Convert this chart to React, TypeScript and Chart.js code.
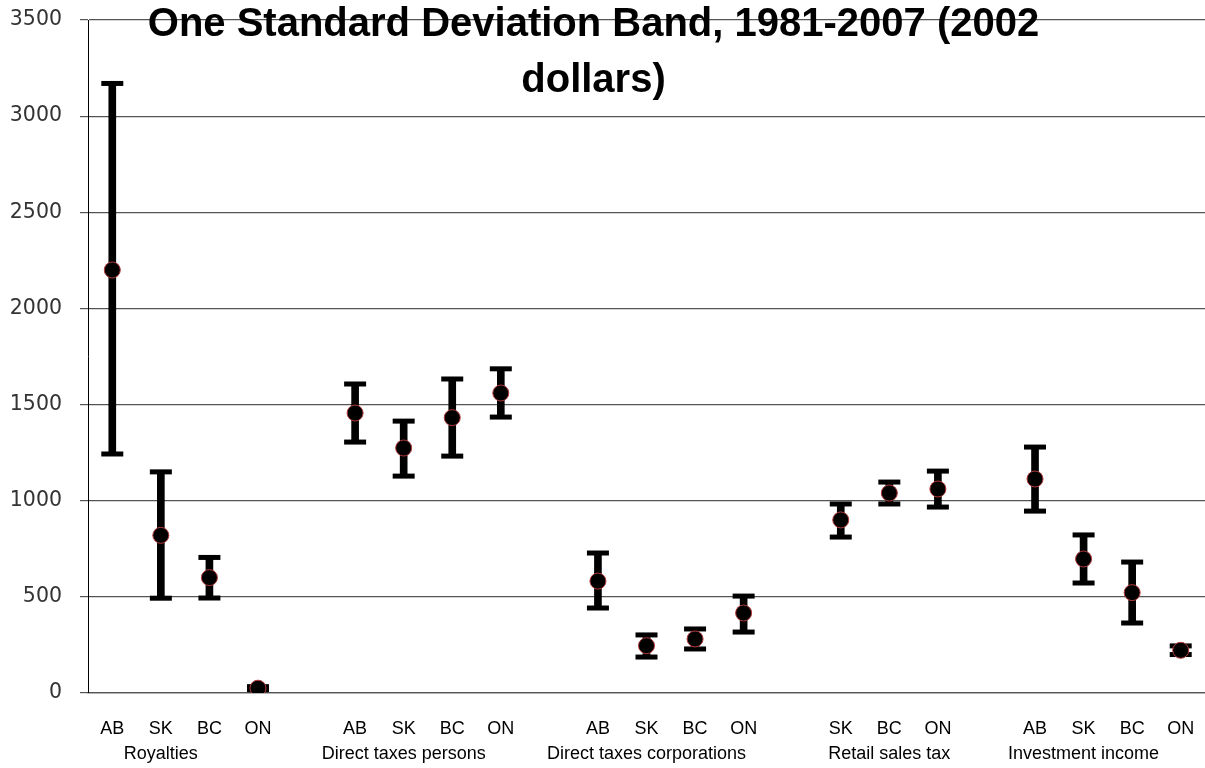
import React, { useEffect, useRef } from 'react';
import { Chart, registerables } from 'chart.js';

Chart.register(...registerables);

// ---- Data ----
const titleLines = ['One Standard Deviation Band, 1981-2007 (2002', 'dollars)'];

const groups = [
  'Royalties',
  'Direct taxes persons',
  'Direct taxes corporations',
  'Retail sales tax',
  'Investment income',
];

const groupProvinces = [
  ['AB', 'SK', 'BC', 'ON'],
  ['AB', 'SK', 'BC', 'ON'],
  ['AB', 'SK', 'BC', 'ON'],
  ['SK', 'BC', 'ON'],
  ['AB', 'SK', 'BC', 'ON'],
];

const meanValues = [
  [2200, 820, 600, 25],
  [1456, 1274, 1432, 1560],
  [582, 246, 281, 416],
  [900, 1040, 1061],
  [1113, 697, 522, 222],
];

const upperValues = [
  [3170, 1150, 705, 33],
  [1607, 1414, 1633, 1686],
  [728, 302, 333, 504],
  [983, 1097, 1154],
  [1279, 822, 681, 245],
];

const lowerValues = [
  [1243, 493, 494, 17],
  [1305, 1128, 1232, 1435],
  [442, 187, 229, 317],
  [811, 983, 967],
  [946, 572, 364, 200],
];

const yMin = 0;
const yMax = 3500;
const yStep = 500;

// ---- Build flat category table (blank category between groups) ----
const labels: string[][] = [];
const means: (number | null)[] = [];
const highs: (number | null)[] = [];
const lows: (number | null)[] = [];
const bands: ([number, number] | null)[] = [];

groups.forEach((g, gi) => {
  if (gi > 0) {
    labels.push(['', '']);
    means.push(null);
    highs.push(null);
    lows.push(null);
    bands.push(null);
  }
  groupProvinces[gi].forEach((p, pi) => {
    labels.push([p, pi === 1 ? g : '']);
    means.push(meanValues[gi][pi]);
    highs.push(upperValues[gi][pi]);
    lows.push(lowerValues[gi][pi]);
    bands.push([lowerValues[gi][pi], upperValues[gi][pi]]);
  });
});

const overlayTitle = {
  id: 'overlayTitle',
  afterDraw(chart: any) {
    const ctx = chart.ctx;
    ctx.save();
    ctx.font = 'bold 40px "Liberation Sans", Arial, sans-serif';
    ctx.fillStyle = '#000';
    ctx.textAlign = 'center';
    ctx.textBaseline = 'alphabetic';
    const cx = chart.width / 2 - 9;
    titleLines.forEach((t, i) => ctx.fillText(t, cx, 36 + i * 56));
    ctx.restore();
  },
};

const clearScalePadding = (scale: any) => {
  scale.paddingTop = 0;
  scale.paddingBottom = 0;
  scale.paddingLeft = 0;
  scale.paddingRight = 0;
};

export default function App() {
  const ref = useRef<HTMLCanvasElement | null>(null);

  useEffect(() => {
    if (!ref.current) return;
    const chart = new Chart(ref.current, {
      type: 'bar',
      data: {
        labels,
        datasets: [
          {
            type: 'line',
            label: 'Mean',
            data: means,
            showLine: false,
            pointStyle: 'circle',
            pointRadius: 8,
            pointHoverRadius: 8,
            pointBackgroundColor: '#000',
            pointBorderColor: '#b23a3a',
            pointBorderWidth: 1,
            order: 0,
          } as any,
          {
            type: 'line',
            label: 'Upper',
            data: highs,
            showLine: false,
            pointStyle: 'line',
            pointRadius: 11,
            pointHoverRadius: 11,
            pointBorderColor: '#000',
            pointBorderWidth: 5,
            order: 1,
          } as any,
          {
            type: 'line',
            label: 'Lower',
            data: lows,
            showLine: false,
            pointStyle: 'line',
            pointRadius: 11,
            pointHoverRadius: 11,
            pointBorderColor: '#000',
            pointBorderWidth: 5,
            order: 1,
          } as any,
          {
            type: 'bar',
            label: 'Band',
            data: bands as any,
            backgroundColor: '#000',
            barThickness: 7,
            grouped: false,
            order: 2,
          } as any,
        ],
      },
      options: {
        responsive: false,
        animation: false,
        layout: { autoPadding: false, padding: { left: 0, right: -3, top: 20, bottom: 0 } },
        plugins: {
          legend: { display: false },
          tooltip: { enabled: false },
          title: { display: false },
        },
        scales: {
          x: {
            grid: { display: false, drawTicks: false },
            border: { display: true, color: '#555', width: 1.2 },
            ticks: {
              autoSkip: false,
              maxRotation: 0,
              minRotation: 0,
              padding: 23,
              color: '#000',
              font: { family: '"Liberation Sans", Arial, sans-serif', size: 18, lineHeight: 1.4 },
            },
            afterFit: (scale: any) => {
              scale.height = 75;
              clearScalePadding(scale);
            },
          },
          y: {
            min: yMin,
            max: yMax,
            ticks: {
              stepSize: yStep,
              padding: 18,
              color: '#333',
              font: { family: '"DejaVu Sans", sans-serif', size: 20.5 },
              callback: (v: any) => String(v),
            },
            grid: { color: '#555', lineWidth: 1.2, tickLength: 8, drawTicks: true },
            border: { color: '#000', width: 1 },
            afterFit: (scale: any) => {
              scale.width = 88;
              clearScalePadding(scale);
            },
          },
        },
      },
      plugins: [overlayTitle],
    });
    return () => chart.destroy();
  }, []);

  return (
    <div style={{ position: 'fixed', left: 0, top: 0, width: 1205, height: 768, background: '#fff' }}>
      <canvas ref={ref} width={1205} height={768} />
    </div>
  );
}
